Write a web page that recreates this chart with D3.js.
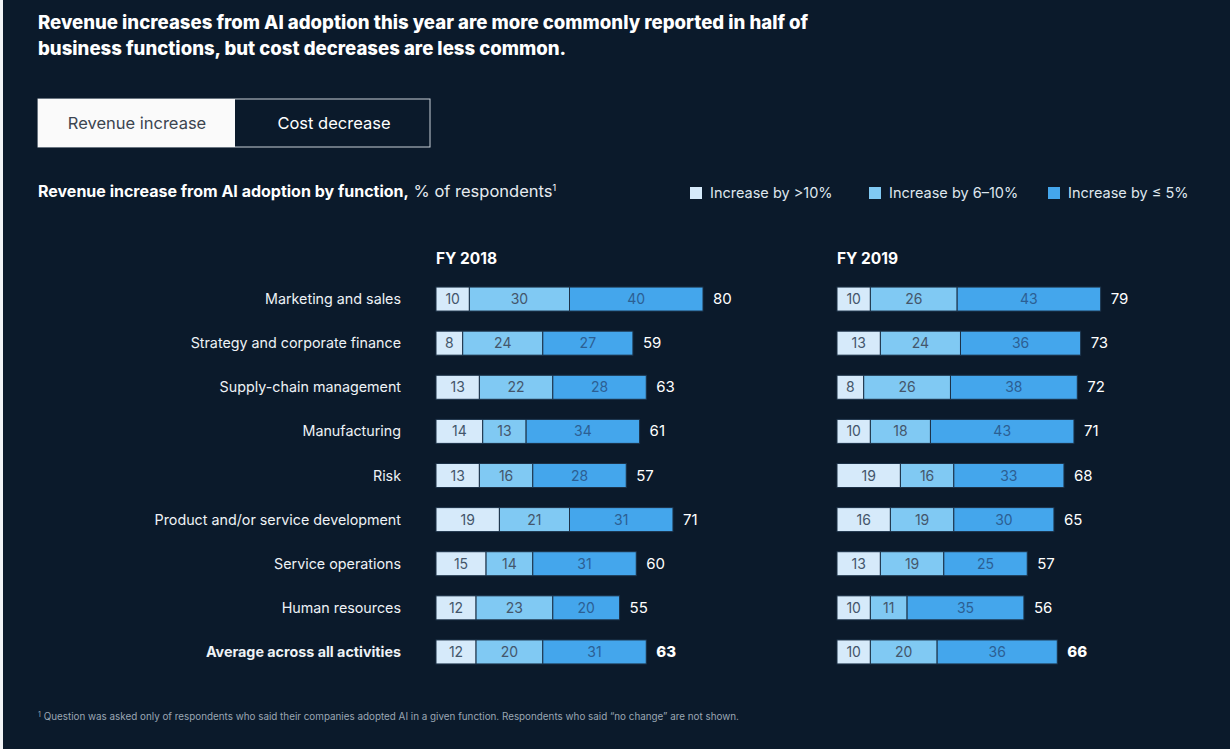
<!DOCTYPE html>
<html>
<head>
<meta charset="utf-8">
<script src="https://cdn.jsdelivr.net/npm/d3@7"></script>
<style>
  html, body { margin: 0; padding: 0; background: #fff; }
  svg { display: block; }
  text { font-family: "Inter", "Liberation Sans", Arial, sans-serif; }
</style>
</head>
<body>
<svg id="chart"></svg>
<script>
// categories and values
const functions = [
  "Marketing and sales",
  "Strategy and corporate finance",
  "Supply-chain management",
  "Manufacturing",
  "Risk",
  "Product and/or service development",
  "Service operations",
  "Human resources",
  "Average across all activities"
];
const seriesNames = ["Increase by >10%", "Increase by 6\u201310%", "Increase by \u2264 5%"];
const years = ["FY 2018", "FY 2019"];

const over10_2018 = [10, 8, 13, 14, 13, 19, 15, 12, 12];
const from6to10_2018 = [30, 24, 22, 13, 16, 21, 14, 23, 20];
const upTo5_2018 = [40, 27, 28, 34, 28, 31, 31, 20, 31];
const total_2018 = [80, 59, 63, 61, 57, 71, 60, 55, 63];

const over10_2019 = [10, 13, 8, 10, 19, 16, 13, 10, 10];
const from6to10_2019 = [26, 24, 26, 18, 16, 19, 19, 11, 20];
const upTo5_2019 = [43, 36, 38, 43, 33, 30, 25, 35, 36];
const total_2019 = [79, 73, 72, 71, 68, 65, 57, 56, 66];

const colors = ["#d6eafa", "#80c9f3", "#44a6ec"];
const bg = "#0b1a2b";

const W = 1230, H = 749;
const svg = d3.select("#chart").attr("width", W).attr("height", H);

// background with the thin light strip on the left edge
svg.append("rect").attr("width", W).attr("height", H).attr("fill", "#f2f4f6");
svg.append("rect").attr("x", 3).attr("y", 0).attr("width", W - 3).attr("height", H).attr("fill", bg);

// title
const title = svg.append("text").attr("x", 38).attr("fill", "#fff")
  .attr("font-size", 18.6).attr("font-weight", 800);
title.append("tspan").attr("x", 38).attr("y", 29)
  .text("Revenue increases from AI adoption this year are more commonly reported in half of");
title.append("tspan").attr("x", 38).attr("y", 55)
  .text("business functions, but cost decreases are less common.");

// toggle buttons
svg.append("rect").attr("x", 38).attr("y", 99).attr("width", 392).attr("height", 48)
  .attr("fill", bg).attr("stroke", "#c9d0d8").attr("stroke-width", 1);
svg.append("rect").attr("x", 38).attr("y", 99).attr("width", 197).attr("height", 48)
  .attr("fill", "#fafafa");
svg.append("text").attr("x", 137).attr("y", 129).attr("text-anchor", "middle")
  .attr("font-size", 16.5).attr("fill", "#3c4550").text("Revenue increase");
svg.append("text").attr("x", 334).attr("y", 129).attr("text-anchor", "middle")
  .attr("font-size", 16.5).attr("fill", "#fff").text("Cost decrease");

// subtitle
const sub = svg.append("text").attr("x", 38).attr("y", 197).attr("font-size", 16).attr("fill", "#fff");
sub.append("tspan").attr("font-weight", 700).text("Revenue increase from AI adoption by function,");
sub.append("tspan").attr("fill", "#e6ebf0").attr("font-size", 16.5).text(" % of respondents");
sub.append("tspan").attr("font-size", 9).attr("dy", -6).text("1");

// legend
const legendX = [690, 869, 1048];
const legend = svg.append("g").selectAll("g").data(seriesNames).join("g")
  .attr("transform", (d, i) => `translate(${legendX[i]},198)`);
legend.append("rect").attr("x", 0).attr("y", -11).attr("width", 12).attr("height", 12)
  .attr("fill", (d, i) => colors[i]);
legend.append("text").attr("x", 20).attr("y", 0).attr("font-size", 14.5)
  .attr("fill", "#dfe6ee").text(d => d);

// scales
const y = d3.scaleBand().domain(functions).range([277, 674]).paddingInner(0.45).paddingOuter(0.225);
const barH = 24;
const rowY = d => y(d) + y.bandwidth() / 2;

// category labels
svg.append("g").selectAll("text").data(functions).join("text")
  .attr("x", 401).attr("y", d => rowY(d) + 5)
  .attr("text-anchor", "end").attr("font-size", 14.3).attr("fill", "#eef2f6")
  .attr("font-weight", (d, i) => i === functions.length - 1 ? 700 : 400)
  .text(d => d);

function panel(x0, label, a, b, c, totals) {
  const x = d3.scaleLinear().domain([0, 80]).range([x0, x0 + 267]);
  const g = svg.append("g");
  g.append("text").attr("x", x0).attr("y", 264).attr("font-size", 15.5)
    .attr("font-weight", 700).attr("fill", "#fff").text(label);

  const rows = functions.map((f, i) => ({ f, vals: [a[i], b[i], c[i]], total: totals[i], last: i === functions.length - 1 }));
  const segs = rows.flatMap(r => {
    let acc = 0;
    return r.vals.map((v, k) => { const s = { f: r.f, k, v, start: acc }; acc += v; return s; });
  });

  g.selectAll("rect.seg").data(segs).join("rect").attr("class", "seg")
    .attr("x", d => x(d.start)).attr("y", d => rowY(d.f) - barH / 2)
    .attr("width", d => x(d.start + d.v) - x(d.start)).attr("height", barH)
    .attr("fill", d => colors[d.k]).attr("stroke", "#1c3147").attr("stroke-width", 1);

  g.selectAll("text.seg").data(segs).join("text").attr("class", "seg")
    .attr("x", d => x(d.start + d.v / 2))
    .attr("y", d => rowY(d.f) + 5)
    .attr("text-anchor", "middle")
    .attr("font-size", 14).attr("fill", d => d.k === 2 ? "#2c5f93" : "#44566b")
    .text(d => d.v);

  g.selectAll("text.tot").data(rows).join("text").attr("class", "tot")
    .attr("x", d => x(d.total) + 10).attr("y", d => rowY(d.f) + 5)
    .attr("font-size", 15).attr("fill", "#fff")
    .attr("font-weight", d => d.last ? 800 : 400)
    .text(d => d.total);
}

panel(436, years[0], over10_2018, from6to10_2018, upTo5_2018, total_2018);
panel(837, years[1], over10_2019, from6to10_2019, upTo5_2019, total_2019);

// footnote
const foot = svg.append("text").attr("x", 38).attr("y", 720).attr("font-size", 9.85).attr("fill", "#9aa6b3");
foot.append("tspan").attr("font-size", 7).attr("dy", -3).text("1");
foot.append("tspan").attr("dy", 3)
  .text(" Question was asked only of respondents who said their companies adopted AI in a given function. Respondents who said \u201cno change\u201d are not shown.");
</script>
</body>
</html>
